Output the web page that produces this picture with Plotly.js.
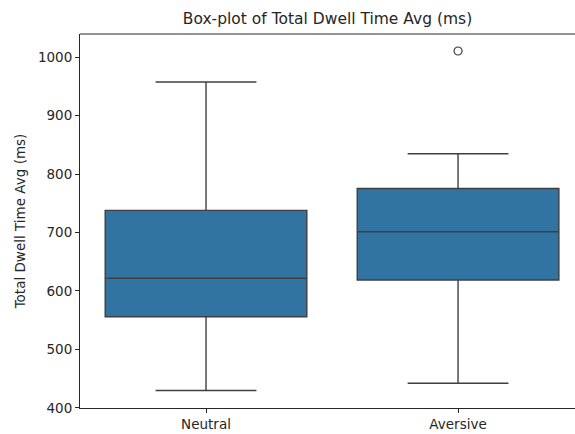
<!DOCTYPE html>
<html>
<head>
<meta charset="utf-8">
<script src="https://cdn.plot.ly/plotly-3.0.1.min.js"></script>
<style>html,body{margin:0;padding:0;background:#fff;}#chart{width:575px;height:434px;}</style>
</head>
<body>
<div id="chart"></div>
<script>
const categories = ['Neutral', 'Aversive'];
const lowerWhisker = [429.6, 442.0];
const q1Values = [556.0, 618.8];
const medianValues = [621.7, 701.4];
const q3Values = [738.0, 775.5];
const upperWhisker = [957.8, 834.8];
const outlierCategories = ['Aversive'];
const outlierValues = [1010.8];
const yTicks = [400, 500, 600, 700, 800, 900, 1000];

const font = 'DejaVu Sans, sans-serif';
const traces = [
  {
    type: 'box',
    x: categories,
    q1: q1Values,
    median: medianValues,
    q3: q3Values,
    lowerfence: lowerWhisker,
    upperfence: upperWhisker,
    width: 0.8,
    whiskerwidth: 0.5,
    fillcolor: '#3274a1',
    line: {color: '#3f3f3f', width: 1.4},
    boxpoints: false,
    hoverinfo: 'skip',
    showlegend: false
  },
  {
    type: 'scatter',
    mode: 'markers',
    x: outlierCategories,
    y: outlierValues,
    marker: {symbol: 'circle-open', size: 8, color: '#3f3f3f', line: {width: 1.2, color: '#3f3f3f'}},
    showlegend: false,
    hoverinfo: 'skip'
  }
];

const layout = {
  width: 575, height: 434,
  margin: {l: 80, r: 0, t: 34, b: 26},
  paper_bgcolor: '#fff', plot_bgcolor: '#fff',
  font: {family: font, color: '#262626', size: 13.5},
  title: {text: 'Box-plot of Total Dwell Time Avg (ms)', font: {family: font, size: 15.5, color: '#262626'}, x: 0.5, xanchor: 'center', xref: 'paper', y: 1, yref: 'container', yanchor: 'top', pad: {t: 13}},
  xaxis: {
    type: 'category', categoryorder: 'array', categoryarray: categories,
    range: [-0.5, 1.464],
    showline: true, linecolor: '#262626', linewidth: 1,
    ticks: 'outside', ticklen: 4, tickcolor: '#262626', tickwidth: 1,
    showgrid: false, zeroline: false,
    tickfont: {family: font, size: 13.5, color: '#262626'}
  },
  yaxis: {
    range: [399.7, 1039.9],
    tickvals: yTicks, ticktext: yTicks.map(String),
    showline: true, linecolor: '#262626', linewidth: 1,
    ticks: 'outside', ticklen: 4, tickcolor: '#262626', tickwidth: 1,
    showgrid: false, zeroline: false,
    tickfont: {family: font, size: 13.5, color: '#262626'},
    title: {text: 'Total Dwell Time Avg (ms)', font: {family: font, size: 13.5, color: '#262626'}, standoff: 9}
  },
  shapes: [
    {type: 'line', xref: 'paper', yref: 'paper', x0: 0, x1: 1, y0: 1, y1: 1, line: {color: '#262626', width: 1}}
  ]
};

Plotly.newPlot('chart', traces, layout, {staticPlot: true, displayModeBar: false});
</script>
</body>
</html>
